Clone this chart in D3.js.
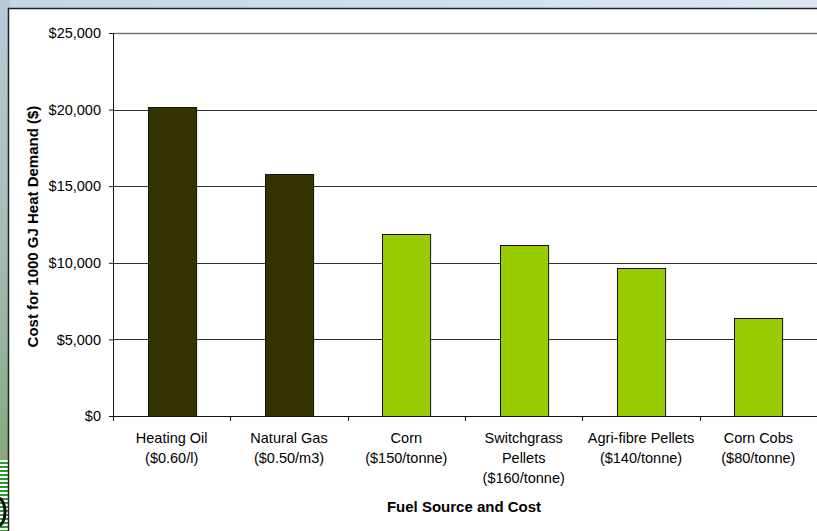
<!DOCTYPE html>
<html>
<head>
<meta charset="utf-8">
<script src="https://cdn.jsdelivr.net/npm/d3@7"></script>
<style>
  html, body { margin: 0; padding: 0; background: #fff; }
  svg { display: block; font-family: "Liberation Sans", Arial, sans-serif; }
</style>
</head>
<body>
<svg id="chart"></svg>
<script>
// Data
const categories = [
  ["Heating Oil", "($0.60/l)"],
  ["Natural Gas", "($0.50/m3)"],
  ["Corn", "($150/tonne)"],
  ["Switchgrass", "Pellets", "($160/tonne)"],
  ["Agri-fibre Pellets", "($140/tonne)"],
  ["Corn Cobs", "($80/tonne)"]
];
const costs = [20200, 15800, 11850, 11150, 9650, 6400];
const fuelTypes = ["fossil", "fossil", "biomass", "biomass", "biomass", "biomass"];
const yTicks = [0, 5000, 10000, 15000, 20000, 25000];

// Constants
const width = 817;
const height = 531;
const margin = { left: 113, right: 0, top: 33, bottom: 115 };

const svg = d3.select('#chart')
  .attr('width', width)
  .attr('height', height);

// Slide background around the chart frame
const defs = svg.append('defs');
const topGrad = defs.append('linearGradient').attr('id', 'topGrad');
topGrad.append('stop').attr('offset', '0%').attr('stop-color', '#c3d5e6');
topGrad.append('stop').attr('offset', '100%').attr('stop-color', '#dbe8f4');
const leftGrad = defs.append('linearGradient').attr('id', 'leftGrad')
  .attr('x1', 0).attr('x2', 0).attr('y1', 0).attr('y2', 1);
leftGrad.append('stop').attr('offset', '0%').attr('stop-color', '#b8cad8');
leftGrad.append('stop').attr('offset', '50%').attr('stop-color', '#a7bdb8');
leftGrad.append('stop').attr('offset', '100%').attr('stop-color', '#86a97f');

svg.append('rect').attr('width', width).attr('height', 10).attr('fill', 'url(#topGrad)');
svg.append('rect').attr('y', 0).attr('width', 10).attr('height', 460).attr('fill', 'url(#leftGrad)');

// little logo peeking out at the bottom left
const logo = svg.append('g');
logo.append('rect').attr('y', 460).attr('width', 10).attr('height', 71).attr('fill', '#fff');
d3.range(462, 531, 4).forEach(y => {
  logo.append('rect').attr('x', 0).attr('y', y).attr('width', 10).attr('height', 2).attr('fill', '#2f9a2f');
});
logo.append('ellipse').attr('cx', -2).attr('cy', 512).attr('rx', 7).attr('ry', 14)
  .attr('fill', 'none').attr('stroke', '#111').attr('stroke-width', 3);

// Chart frame
svg.append('rect')
  .attr('x', 8.5).attr('y', 8.5)
  .attr('width', width).attr('height', height)
  .attr('fill', '#fff')
  .attr('stroke', '#222')
  .attr('stroke-width', 1.5);

const visWidth = width - margin.left - margin.right;
const visHeight = height - margin.top - margin.bottom;

const chart = svg.append('g')
  .attr('transform', 'translate(' + margin.left + ',' + margin.top + ')');

// Scales
const x = d3.scaleBand()
  .domain(d3.range(categories.length))
  .range([0, visWidth])
  .paddingInner(0.59)
  .paddingOuter(0.295);

const y = d3.scaleLinear()
  .domain([0, 25000])
  .range([visHeight, 0]);

const color = d3.scaleOrdinal()
  .domain(["fossil", "biomass"])
  .range(["#333300", "#99cc00"]);

// Gridlines
chart.append('g')
  .selectAll('line')
  .data(yTicks.filter(d => d > 0))
  .enter()
  .append('line')
  .attr('x1', 0)
  .attr('x2', visWidth + 5)
  .attr('y1', d => Math.round(y(d)) + 0.5)
  .attr('y2', d => Math.round(y(d)) + 0.5)
  .attr('stroke', d => d === 25000 ? '#777' : '#333')
  .attr('stroke-width', d => d === 25000 ? 1.5 : 1);

// Bars
chart.append('g')
  .selectAll('rect')
  .data(costs)
  .enter()
  .append('rect')
  .attr('x', (d, i) => Math.round(x(i)) + 0.5)
  .attr('y', d => Math.round(y(d)) + 0.5)
  .attr('width', x.bandwidth())
  .attr('height', d => Math.round(y(0)) - Math.round(y(d)))
  .attr('fill', (d, i) => color(fuelTypes[i]))
  .attr('stroke', '#111')
  .attr('stroke-width', 1);

// Y axis
const yAxis = chart.append('g')
  .call(d3.axisLeft(y)
    .tickValues(yTicks)
    .tickSize(4)
    .tickPadding(8)
    .tickFormat(d => '$' + d3.format(',')(d)));

yAxis.select('.domain').attr('stroke', '#111');
yAxis.selectAll('.tick line').attr('stroke', '#111');
yAxis.selectAll('.tick text')
  .attr('font-size', '14.5px')
  .attr('font-family', '"Liberation Sans", Arial, sans-serif')
  .attr('fill', '#000');

// X axis line and category divider ticks
const xAxis = chart.append('g').attr('transform', 'translate(0,' + visHeight + ')');
xAxis.append('line')
  .attr('x1', 0).attr('x2', visWidth + 5)
  .attr('y1', 0.5).attr('y2', 0.5)
  .attr('stroke', '#111');

const step = x.step();
xAxis.selectAll('.divider')
  .data(d3.range(categories.length + 1))
  .enter()
  .append('line')
  .attr('class', 'divider')
  .attr('x1', i => Math.round(i * step) + 0.5)
  .attr('x2', i => Math.round(i * step) + 0.5)
  .attr('y1', 0)
  .attr('y2', 5)
  .attr('stroke', '#111');

// Category labels (multi-line)
const labels = xAxis.selectAll('.cat')
  .data(categories)
  .enter()
  .append('text')
  .attr('class', 'cat')
  .attr('text-anchor', 'middle')
  .attr('font-size', '14.5px')
  .attr('fill', '#000')
  .attr('transform', (d, i) => 'translate(' + (x(i) + x.bandwidth() / 2) + ',0)');

labels.selectAll('tspan')
  .data(d => d)
  .enter()
  .append('tspan')
  .attr('x', 0)
  .attr('y', (d, i) => 27 + i * 20)
  .text(d => d);

// Axis titles
svg.append('text')
  .attr('x', margin.left + visWidth / 2 - 1)
  .attr('y', 512)
  .attr('text-anchor', 'middle')
  .attr('font-size', '15px')
  .attr('font-weight', 'bold')
  .text('Fuel Source and Cost');

svg.append('text')
  .attr('transform', 'translate(38,' + (margin.top + visHeight / 2 + 2) + ') rotate(-90)')
  .attr('text-anchor', 'middle')
  .attr('font-size', '15px')
  .attr('font-weight', 'bold')
  .text('Cost for 1000 GJ Heat Demand ($)');
</script>
</body>
</html>
